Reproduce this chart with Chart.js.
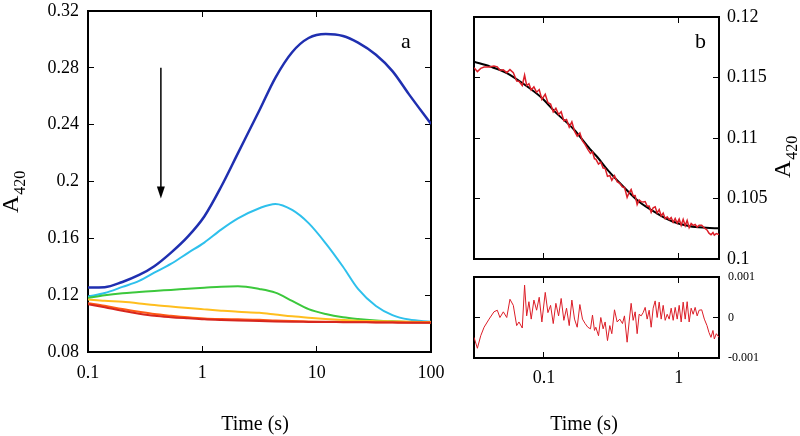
<!DOCTYPE html>
<html>
<head>
<meta charset="utf-8">
<script src="https://cdn.jsdelivr.net/npm/chart.js@4"></script>
<style>
  html, body { margin: 0; padding: 0; background: #fff; }
  #wrap { position: relative; width: 800px; height: 436px; overflow: hidden; }
  #wrap canvas { position: absolute; }
</style>
</head>
<body>
<div id="wrap">
  <canvas id="chartA" width="461" height="451" style="left:0;top:-15px"></canvas>
  <canvas id="chartB" width="350" height="292" style="left:450px;top:-8px"></canvas>
  <canvas id="chartR" width="350" height="182" style="left:450px;top:254px"></canvas>
</div>
<script>
/* ===== panel a : A420 vs time, six traces ===== */
const timeA   = [0.1, 0.14, 0.2, 0.28, 0.38, 0.53, 0.75, 1.04, 1.46, 2.05, 3.15, 4.35, 6.1, 8.5, 12, 17, 23, 33, 46, 64, 100];
const blueA   = [0.1254, 0.1256, 0.1293, 0.1342, 0.1404, 0.1498, 0.1614, 0.1754, 0.1963, 0.2200, 0.2500, 0.2730, 0.2910, 0.3010, 0.3038, 0.3024, 0.2977, 0.2892, 0.2777, 0.2615, 0.2405];
const cyanA   = [0.1190, 0.1215, 0.1258, 0.1300, 0.1358, 0.1420, 0.1498, 0.1570, 0.1661, 0.1740, 0.1812, 0.1842, 0.1800, 0.1707, 0.1565, 0.1400, 0.1244, 0.1124, 0.1060, 0.1028, 0.1012];
const greenA  = [0.1180, 0.1200, 0.1214, 0.1222, 0.1230, 0.1237, 0.1245, 0.1252, 0.1260, 0.1263, 0.1244, 0.1218, 0.1160, 0.1102, 0.1067, 0.1044, 0.1032, 0.1022, 0.1016, 0.1012, 0.1008];
const yellowA = [0.1170, 0.1160, 0.1153, 0.1142, 0.1130, 0.1120, 0.1109, 0.1100, 0.1091, 0.1083, 0.1076, 0.1064, 0.1051, 0.1041, 0.1032, 0.1025, 0.1020, 0.1017, 0.1015, 0.1013, 0.1011];
const orangeA = [0.1144, 0.1125, 0.1102, 0.1083, 0.1067, 0.1055, 0.1044, 0.1036, 0.1032, 0.1030, 0.1027, 0.1022, 0.1018, 0.1015, 0.1013, 0.1012, 0.1011, 0.1010, 0.1009, 0.1008, 0.1007];
const redA    = [0.1137, 0.1115, 0.1090, 0.1070, 0.1055, 0.1045, 0.1037, 0.1030, 0.1025, 0.1021, 0.1018, 0.1015, 0.1013, 0.1012, 0.1011, 0.1010, 0.1009, 0.1008, 0.1007, 0.1006, 0.1005];
const xTicksA  = [0.1, 1, 10, 100];
const xLabelsA = ["0.1", "1", "10", "100"];
const yTicksA  = [0.08, 0.12, 0.16, 0.2, 0.24, 0.28, 0.32];
const yLabelsA = ["0.08", "0.12", "0.16", "0.2", "0.24", "0.28", "0.32"];
const arrowT = 0.434, arrowFrom = 0.28, arrowTo = 0.188;

/* ===== panel b : single trace, fit and residuals ===== */
const timeB = [
  0.0303, 0.0321, 0.0340, 0.0360, 0.0392, 0.0426, 0.0451, 0.0472, 0.0500, 0.0530,
  0.0560, 0.0593, 0.0628, 0.0653, 0.0691, 0.0719, 0.0745, 0.0774, 0.0805, 0.0843,
  0.0883, 0.0923, 0.0966, 0.1023, 0.1071, 0.1121, 0.1173, 0.1227, 0.1285, 0.1343,
  0.1406, 0.1472, 0.1541, 0.1612, 0.1687, 0.1766, 0.1848, 0.1933, 0.2023, 0.2117,
  0.2216, 0.2293, 0.2372, 0.2428, 0.2541, 0.2643, 0.2750, 0.2846, 0.2963, 0.3083,
  0.3190, 0.3339, 0.3494, 0.3656, 0.3826, 0.3959, 0.4143, 0.4288, 0.4437, 0.4592,
  0.4752, 0.4917, 0.5088, 0.5265, 0.5448, 0.5638, 0.5834, 0.6037, 0.6247, 0.6464,
  0.6689, 0.6922, 0.7163, 0.7412, 0.7670, 0.7936, 0.8212, 0.8498, 0.8793, 0.9099,
  0.9415, 0.9743, 1.008, 1.043, 1.079, 1.117, 1.155, 1.195, 1.237, 1.280,
  1.324, 1.370, 1.417, 1.481, 1.549, 1.621, 1.677, 1.735, 1.795, 1.837,
  1.901, 1.990
];
const dataB = [
  0.11581, 0.11549, 0.11575, 0.11586, 0.11586, 0.11594, 0.11588, 0.11560, 0.11564, 0.11540,
  0.11565, 0.11540, 0.11470, 0.11469, 0.11434, 0.11520, 0.11434, 0.11449, 0.11396, 0.11423,
  0.11378, 0.11400, 0.11319, 0.11362, 0.11292, 0.11280, 0.11215, 0.11245, 0.11194, 0.11217,
  0.11143, 0.11153, 0.11090, 0.11133, 0.11056, 0.11016, 0.11042, 0.10976, 0.10945, 0.10906,
  0.10872, 0.10886, 0.10828, 0.10826, 0.10785, 0.10800, 0.10752, 0.10749, 0.10683, 0.10690,
  0.10650, 0.10689, 0.10639, 0.10626, 0.10595, 0.10594, 0.10509, 0.10549, 0.10575, 0.10523,
  0.10524, 0.10450, 0.10488, 0.10474, 0.10472, 0.10475, 0.10436, 0.10438, 0.10386, 0.10423,
  0.10431, 0.10380, 0.10408, 0.10356, 0.10380, 0.10333, 0.10348, 0.10326, 0.10343, 0.10303,
  0.10335, 0.10296, 0.10330, 0.10279, 0.10328, 0.10276, 0.10319, 0.10259, 0.10293, 0.10278,
  0.10285, 0.10264, 0.10278, 0.10279, 0.10256, 0.10240, 0.10213, 0.10201, 0.10218, 0.10197,
  0.10210, 0.10201
];
const residB = [
  -0.00049, -0.00076, -0.00045, -0.00024, -0.00004, 0.00014, 0.00018, 0.00000, 0.00014, 0.00000,
  0.00045, 0.00030, -0.00020, -0.00011, -0.00026, 0.00080, 0.00004, 0.00039, -0.00004, 0.00043,
  0.00018, 0.00050, -0.00011, 0.00062, 0.00012, 0.00030, -0.00015, 0.00035, 0.00004, 0.00047,
  -0.00007, 0.00023, -0.00020, 0.00043, -0.00004, -0.00024, 0.00032, -0.00004, -0.00015, -0.00024,
  -0.00028, 0.00006, -0.00032, -0.00024, -0.00045, 0.00000, -0.00028, -0.00011, -0.00057, -0.00020,
  -0.00040, 0.00019, -0.00011, -0.00004, -0.00015, 0.00004, -0.00061, -0.00011, 0.00035, -0.00007,
  0.00014, -0.00040, 0.00008, 0.00004, 0.00012, 0.00025, -0.00004, 0.00018, -0.00024, 0.00023,
  0.00041, 0.00000, 0.00038, -0.00004, 0.00030, -0.00007, 0.00008, -0.00004, 0.00023, -0.00007,
  0.00025, -0.00004, 0.00030, -0.00011, 0.00038, -0.00004, 0.00039, -0.00011, 0.00023, 0.00008,
  0.00025, 0.00004, 0.00018, 0.00019, -0.00004, -0.00020, -0.00037, -0.00049, -0.00032, -0.00053,
  -0.00040, -0.00049
];
const fitTime = [0.0303, 0.04, 0.0535, 0.07, 0.0945, 0.12, 0.167, 0.219, 0.248, 0.3, 0.387, 0.5, 0.683, 0.9, 1.21, 1.6, 1.99];
const fitB    = [0.1163, 0.1159, 0.11535, 0.1145, 0.1134, 0.1122, 0.1107, 0.1091, 0.10845, 0.1073, 0.1060, 0.1048, 0.1038, 0.1031, 0.1027, 0.10258, 0.10254];
const xTicksB  = [0.1, 1];
const xLabelsB = ["0.1", "1"];
const yTicksB  = [0.1, 0.105, 0.11, 0.115, 0.12];
const yLabelsB = ["0.1", "0.105", "0.11", "0.115", "0.12"];
const yTicksR  = [-0.001, 0, 0.001];
const yLabelsR = ["-0.001", "0", "0.001"];

const FONT = "'Liberation Serif', 'Times New Roman', serif";

function labelFor(ticks, labels, v) {
  const i = ticks.findIndex(t => Math.abs(t - v) < 1e-9);
  return i >= 0 ? labels[i] : "";
}

function pts(xs, ys) {
  return xs.map((x, i) => ({ x: x, y: ys[i] }));
}

// box edge with inward tick marks; labels only when given
function edge(position, type, min, max, ticks, labels, size, fontSize, pad) {
  return {
    type: type, position: position, min: min, max: max,
    afterBuildTicks: s => { s.ticks = ticks.map(v => ({ value: v })); },
    afterFit: s => { if (s.isHorizontal()) s.height = size; else s.width = size; },
    grid: { drawOnChartArea: false, drawTicks: true, tickLength: -6, color: "#000", lineWidth: 1 },
    border: { display: true, color: "#000", width: 2 },
    ticks: labels ? {
      display: true, color: "#000", padding: pad, autoSkip: false, maxRotation: 0,
      font: { family: FONT, size: fontSize },
      callback: v => labelFor(ticks, labels, v)
    } : { display: false }
  };
}

function line(data, color, width, smooth) {
  return {
    data: data, borderColor: color, borderWidth: width, pointRadius: 0, fill: false,
    cubicInterpolationMode: smooth ? "monotone" : "default", tension: 0
  };
}

function absLabel(ctx, x, y) {
  ctx.save();
  ctx.translate(x, y);
  ctx.rotate(-Math.PI / 2);
  ctx.fillStyle = "#000";
  ctx.textAlign = "left";
  ctx.textBaseline = "alphabetic";
  ctx.font = "24px " + FONT;
  ctx.fillText("A", 0, 0);
  const w = ctx.measureText("A").width;
  ctx.font = "16px " + FONT;
  ctx.fillText("420", w + 1, 7);
  ctx.restore();
}

function text(ctx, s, x, y, size, align, base) {
  ctx.save();
  ctx.fillStyle = "#000";
  ctx.font = size + "px " + FONT;
  ctx.textAlign = align;
  ctx.textBaseline = base;
  ctx.fillText(s, x, y);
  ctx.restore();
}

const common = {
  responsive: false,
  animation: false,
  plugins: { legend: { display: false }, tooltip: { enabled: false } }
};

/* ===== chart a ===== */
new Chart(document.getElementById("chartA"), {
  type: "line",
  data: {
    datasets: [
      line(pts(timeA, redA), "#d7261e", 2, true),
      line(pts(timeA, orangeA), "#ff5a14", 2, true),
      line(pts(timeA, yellowA), "#ffbe1e", 2, true),
      line(pts(timeA, greenA), "#3cc83c", 2, true),
      line(pts(timeA, cyanA), "#2ec0ec", 2, true),
      line(pts(timeA, blueA), "#1f2fb0", 2.5, true)
    ]
  },
  options: Object.assign({}, common, {
    layout: { padding: { top: 26, right: 30, left: 0, bottom: 0 } },
    scales: {
      x: edge("bottom", "logarithmic", 0.1, 100, xTicksA, xLabelsA, 84, 18, 16),
      x2: edge("top", "logarithmic", 0.1, 100, xTicksA, null, 0),
      y: edge("left", "linear", 0.08, 0.32, yTicksA, yLabelsA, 88, 18, 15),
      y2: edge("right", "linear", 0.08, 0.32, yTicksA, null, 0)
    }
  }),
  plugins: [{
    id: "decorA",
    afterDraw(chart) {
      const ctx = chart.ctx, xs = chart.scales.x, ys = chart.scales.y;
      const ax = xs.getPixelForValue(arrowT);
      const y1 = ys.getPixelForValue(arrowFrom), y2 = ys.getPixelForValue(arrowTo);
      ctx.save();
      ctx.strokeStyle = "#000";
      ctx.fillStyle = "#000";
      ctx.lineWidth = 1.5;
      ctx.beginPath();
      ctx.moveTo(ax, y1);
      ctx.lineTo(ax, y2 - 10);
      ctx.stroke();
      ctx.beginPath();
      ctx.moveTo(ax - 4, y2 - 12);
      ctx.lineTo(ax + 4, y2 - 12);
      ctx.lineTo(ax, y2);
      ctx.closePath();
      ctx.fill();
      ctx.restore();
      text(ctx, "a", 401, 63, 22, "left", "alphabetic");
      text(ctx, "Time (s)", 255, 440, 20, "center", "middle");
      absLabel(ctx, 18, 228);
    }
  }]
});

/* ===== chart b ===== */
new Chart(document.getElementById("chartB"), {
  type: "line",
  data: {
    datasets: [
      line(pts(timeB, dataB), "#dc1e28", 1.5, false),
      line(pts(fitTime, fitB), "#000", 2, true)
    ]
  },
  options: Object.assign({}, common, {
    layout: { padding: { top: 25, right: 0, left: 24, bottom: 25 } },
    scales: {
      x: edge("bottom", "logarithmic", 0.0303, 1.99, xTicksB, null, 0),
      x2: edge("top", "logarithmic", 0.0303, 1.99, xTicksB, null, 0),
      y: edge("right", "linear", 0.1, 0.12, yTicksB, yLabelsB, 81, 18, 14),
      y2: edge("left", "linear", 0.1, 0.12, yTicksB, null, 0)
    }
  }),
  plugins: [{
    id: "decorB",
    afterDraw(chart) {
      text(chart.ctx, "b", 245, 56, 22, "left", "alphabetic");
      absLabel(chart.ctx, 340, 186);
    }
  }]
});

/* ===== residuals ===== */
new Chart(document.getElementById("chartR"), {
  type: "line",
  data: {
    datasets: [line(pts(timeB, residB), "#dc1e28", 1, false)]
  },
  options: Object.assign({}, common, {
    layout: { padding: { top: 23, right: 0, left: 24, bottom: 0 } },
    scales: {
      x: edge("bottom", "logarithmic", 0.0303, 1.99, xTicksB, xLabelsB, 78, 18, 15),
      x2: edge("top", "logarithmic", 0.0303, 1.99, xTicksB, null, 0),
      y: edge("right", "linear", -0.001, 0.001, yTicksR, yLabelsR, 81, 12, 15),
      y2: edge("left", "linear", -0.001, 0.001, yTicksR, null, 0)
    }
  }),
  plugins: [{
    id: "decorR",
    afterDraw(chart) {
      text(chart.ctx, "Time (s)", 134, 171, 20, "center", "middle");
    }
  }]
});
</script>
</body>
</html>
